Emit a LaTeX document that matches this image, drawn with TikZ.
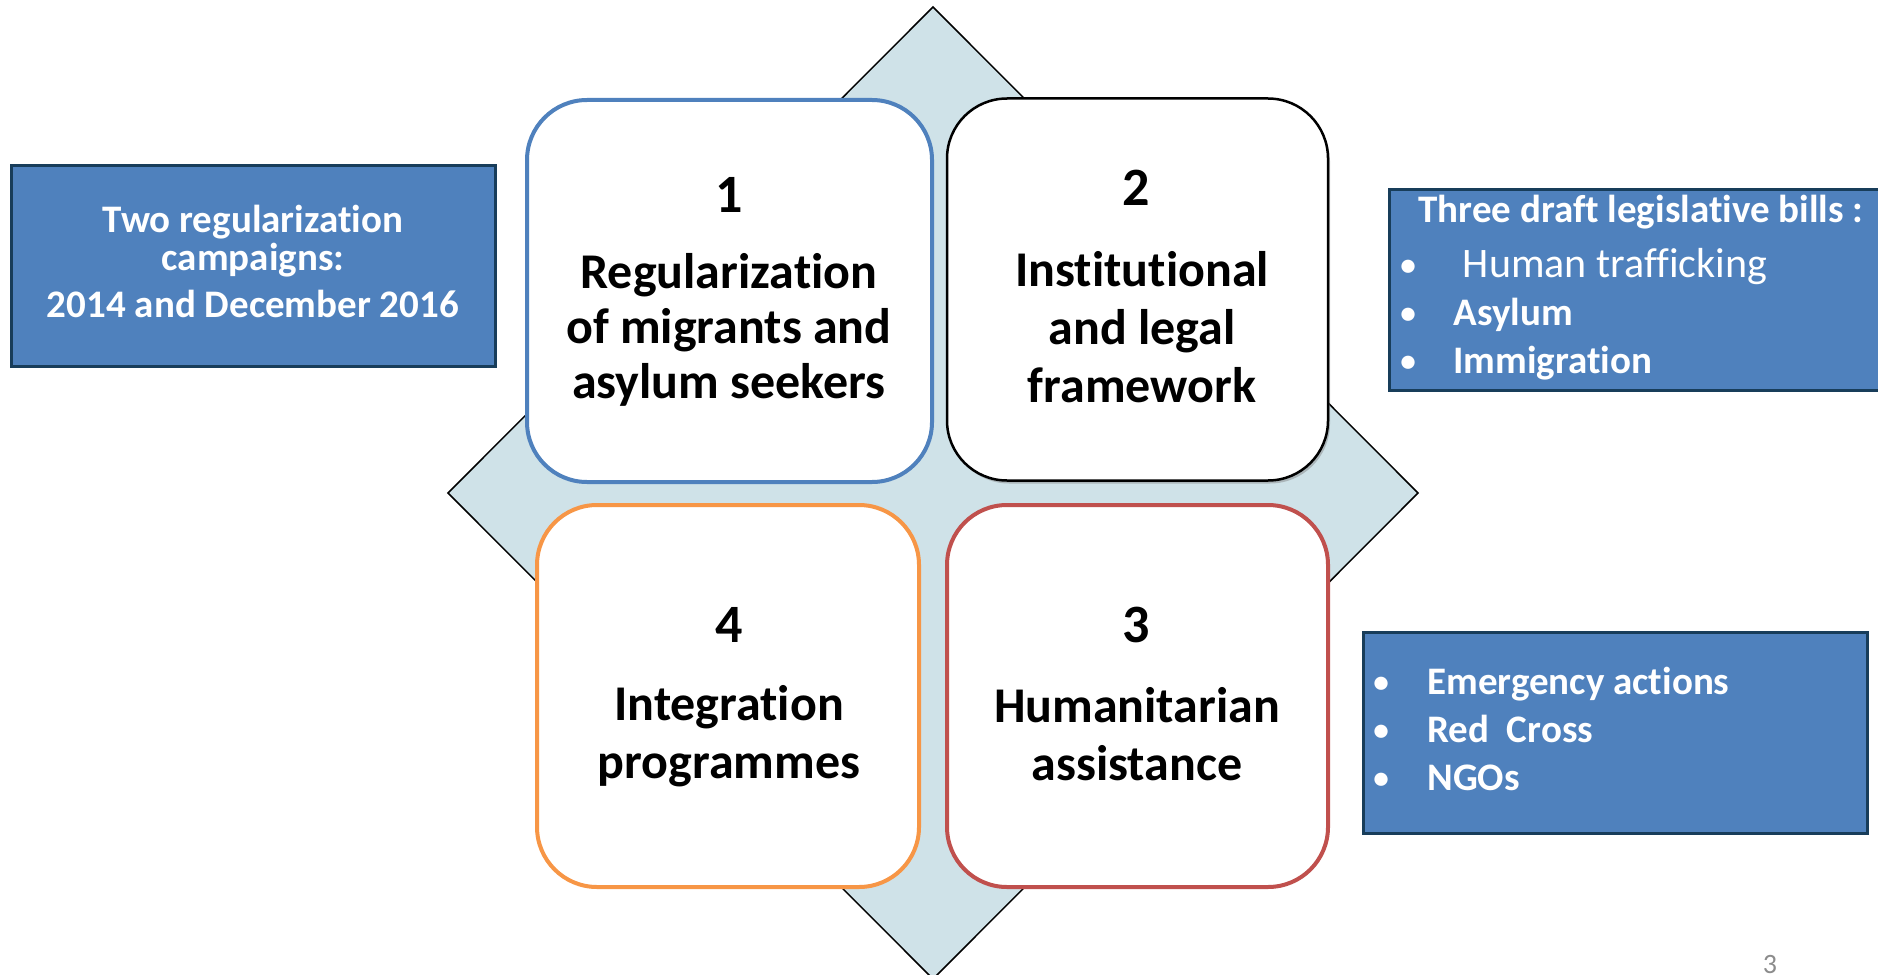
\documentclass[tikz,border=0pt]{standalone}
\usepackage{fontspec}
\setmainfont{Carlito}[Ligatures=NoCommon]
\usepackage{tikz}
\usetikzlibrary{shadows}
\definecolor{diamondblue}{RGB}{207,226,232}
\definecolor{quadblue}{RGB}{79,129,189}
\definecolor{quadorange}{RGB}{247,150,70}
\definecolor{quadred}{RGB}{192,80,77}
\definecolor{sidefill}{RGB}{79,129,189}
\definecolor{sideline}{RGB}{24,61,90}
\definecolor{pagegray}{RGB}{140,140,140}
\newcommand{\sidebullet}[2]{\makebox[#1][l]{\raisebox{1pt}{\scalebox{0.8}{\textbullet}}}#2}

\begin{document}
\begin{tikzpicture}[x=0.5pt, y=-0.5pt,
    quad/.style={rectangle, rounded corners=30pt, draw, line width=2pt, fill=white,
      minimum height=191pt, inner sep=0pt},
    quadnum/.style={font=\bfseries\fontsize{27}{32}\selectfont, anchor=base, inner sep=0pt},
    quadtext/.style={font=\bfseries\fontsize{25}{29}\selectfont, align=center, anchor=base, inner sep=0pt},
    sidebox/.style={rectangle, draw=sideline, fill=sidefill, line width=1.5pt, inner sep=0pt,
      minimum height=100.5pt},
    sidetext/.style={text=white, font=\bfseries\fontsize{19.5}{24}\selectfont, inner sep=0pt}]
    \useasboundingbox (0,0) rectangle (1878,974);

    \draw[fill=diamondblue, line width=0.75pt] (933,7) -- (1418,493) -- (933,979) -- (448,493) -- cycle;

    \node[quad, draw=quadblue, minimum width=202.5pt] (q1) at (729.5,291) {};
    \node[quad, draw=black, line width=1.25pt, minimum width=190.5pt,
          drop shadow={opacity=0.45, shadow xshift=1pt, shadow yshift=-1.5pt}] (q2) at (1137.5,289.5) {};
    \node[quad, draw=quadred, minimum width=190.5pt] (q3) at (1137.5,696) {};
    \node[quad, draw=quadorange, minimum width=191pt] (q4) at (728,696) {};

    \node[quadnum] (n1) at (729,212) {1};
    \node[quadnum] (n2) at (1136,205) {2};
    \node[quadnum] (n3) at (1136,642) {3};
    \node[quadnum] (n4) at (729,642) {4};

    \node[quadtext, font=\bfseries\fontsize{25}{27.5}\selectfont] (t1) at (729,398) {Regularization\\of migrants and\\asylum seekers};
    \node[quadtext] (t2) at (1142,402) {Institutional\\and legal\\framework};
    \node[quadtext] (t3) at (1137,780) {Humanitarian\\assistance};
    \node[quadtext] (t4) at (729,778) {Integration\\programmes};

    \node[sidebox, minimum width=242pt] (campaigns) at (253,265.5) {};
    \node[sidetext, font=\bfseries\fontsize{19.5}{19}\selectfont, align=center, anchor=base] (campaignstext) at (253,317)
      {Two regularization\\campaigns:\\[4.5pt]2014 and December 2016};

    \node[sidebox, minimum width=250.5pt] (bills) at (1639.5,289.5) {};
    \node[sidetext, align=left, anchor=base west] (billstext) at (1400,373)
      {\hspace{9pt}Three draft legislative bills :\\[3.5pt]
       \sidebullet{26.5pt}{\mdseries\fontsize{21}{24}\selectfont\ Human trafficking}\\
       \sidebullet{26.5pt}{Asylum}\\
       \sidebullet{26.5pt}{Immigration}};

    \node[sidebox, minimum width=252pt] (actions) at (1615,732.5) {};
    \node[sidetext, align=left, anchor=base west] (actionstext) at (1373,790)
      {\sidebullet{27pt}{Emergency actions}\\
       \sidebullet{27pt}{Red\ \ Cross}\\
       \sidebullet{27pt}{NGOs}};

    \node[text=pagegray, font=\fontsize{14}{16}\selectfont, anchor=base, inner sep=0pt] (page) at (1770,973) {3};
\end{tikzpicture}
\end{document}
